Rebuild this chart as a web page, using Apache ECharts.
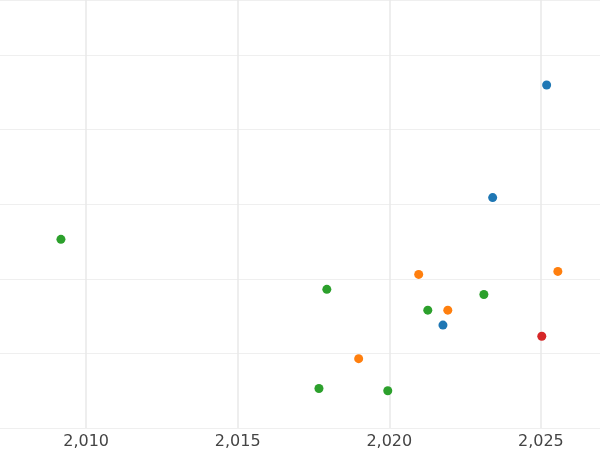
<!DOCTYPE html>
<html><head><meta charset="utf-8">
<script src="https://cdn.jsdelivr.net/npm/echarts@6/dist/echarts.min.js"></script>
<style>html,body{margin:0;padding:0;background:#fff}#c{width:600px;height:450px}</style>
</head><body><div id="c"></div>
<script>
const xTicks = [2010, 2015, 2020, 2025];
const blue = [[2025.19, 4.60], [2023.41, 3.09], [2021.77, 1.38]];
const orange = [[2020.97, 2.06], [2025.56, 2.10], [2021.93, 1.58], [2018.99, 0.93]];
const green = [[2009.17, 2.53], [2017.94, 1.86], [2023.12, 1.79], [2021.27, 1.58], [2017.68, 0.53], [2019.95, 0.50]];
const red = [[2025.03, 1.23]];

const chart = echarts.init(document.getElementById('c'));
const mk = (data, color) => ({type: 'scatter', data: data, symbolSize: 9, itemStyle: {color: color, opacity: 1}});
chart.setOption({
    animation: false,
    grid: {left: 0, right: 0, top: 0, bottom: 22},
    xAxis: {
        type: 'value', min: 2007.16, max: 2026.95,
        axisLine: {show: false}, axisTick: {show: false, customValues: xTicks},
        axisLabel: {customValues: xTicks, color: '#444', fontSize: 16, margin: 6, fontFamily: 'DejaVu Sans'},
        splitLine: {show: true, lineStyle: {color: '#e8e8e8', width: 1.5}}
    },
    yAxis: {
        type: 'value', min: 0, max: 5.74, interval: 1,
        axisLine: {show: false}, axisTick: {show: false}, axisLabel: {show: false},
        splitLine: {lineStyle: {color: '#efefef', width: 1}}
    },
    series: [mk(blue, '#1f77b4'), mk(orange, '#ff7f0e'), mk(green, '#2ca02c'), mk(red, '#d62728')]
});
</script></body></html>
